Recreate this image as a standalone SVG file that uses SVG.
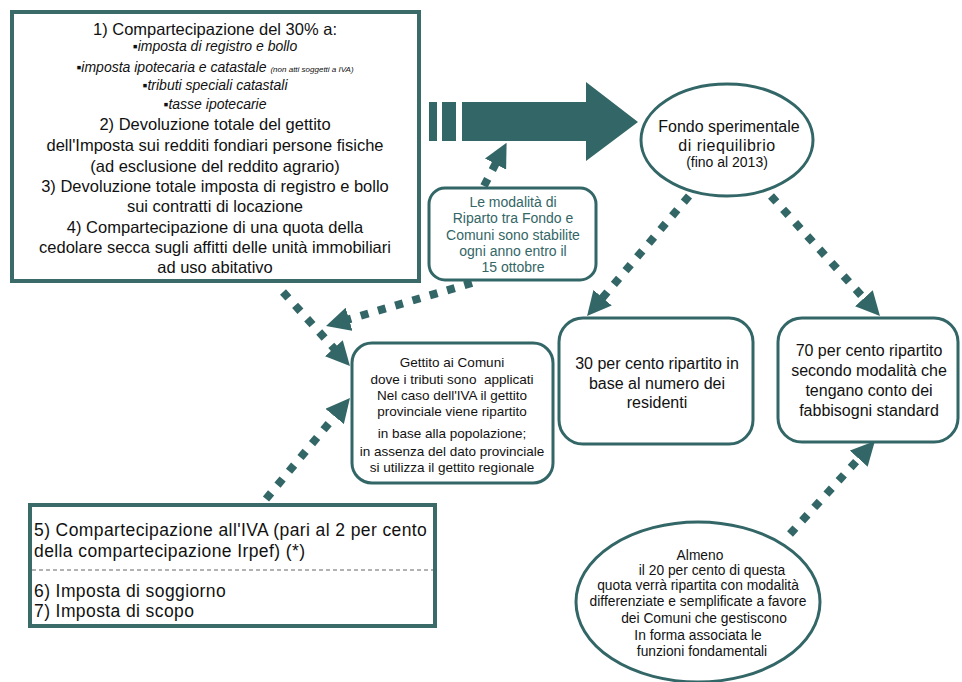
<svg xmlns="http://www.w3.org/2000/svg" width="962" height="682" viewBox="0 0 962 682">
<defs>
<style>
text{font-family:"Liberation Sans",Arial,sans-serif;fill:#111;}
.box{fill:#fff;stroke:#336666;stroke-width:3;}
.thick{fill:#fff;stroke:#3a6b69;stroke-width:4;}
.c{text-anchor:middle;}
.t16{font-size:16px;}
.big{font-size:16.5px;}
.t13{font-size:13.5px;}
.e13{font-size:13.8px;}
.it{font-size:14px;font-style:italic;}
.teal{fill:#336666;font-size:14px;}
.iva{font-size:17.5px;letter-spacing:0.4px;}
.dot{fill:none;stroke:#336666;stroke-width:8;stroke-dasharray:8 10;marker-end:url(#ah);}
</style>
<marker id="ah" markerUnits="userSpaceOnUse" markerWidth="24" markerHeight="24" refX="2" refY="12" orient="auto">
<path d="M0,0 L24,12 L0,24 Z" fill="#336666"/>
</marker>
</defs>

<g id="connectors">
<g id="big-arrow" fill="#336666">
<rect x="429" y="102" width="8" height="39"/>
<rect x="442" y="102" width="14" height="39"/>
<path d="M462,102 L586,102 L586,82 L638,122 L586,161 L586,141 L462,141 Z"/>
</g>
<line class="dot" x1="283" y1="292" x2="335.2" y2="349.7"/>
<line class="dot" x1="472" y1="283" x2="347.1" y2="319.8"/>
<line class="dot" x1="484" y1="186" x2="496.4" y2="162.3"/>
<line class="dot" x1="689" y1="196" x2="601.3" y2="299.2"/>
<line class="dot" x1="771" y1="196" x2="865.2" y2="299.7"/>
<line class="dot" x1="266" y1="499" x2="335.9" y2="414.9"/>
<line class="dot" x1="790" y1="534" x2="860.1" y2="457.2"/>
</g>

<g id="n-compartecipazione">
<rect class="thick" x="12" y="12" width="407" height="269"/>
<text class="c big" x="215" y="35">1) Compartecipazione del 30% a:</text>
<text class="c it" x="215" y="51">▪imposta di registro e bollo</text>
<text class="c it" x="215" y="72">▪imposta ipotecaria e catastale <tspan font-size="8">(non atti soggetti a IVA)</tspan></text>
<text class="c it" x="215" y="90">▪tributi speciali catastali</text>
<text class="c it" x="215" y="109">▪tasse ipotecarie</text>
<text class="c big" x="215" y="130">2) Devoluzione totale del gettito</text>
<text class="c big" x="215" y="151">dell'Imposta sui redditi fondiari persone fisiche</text>
<text class="c big" x="215" y="172">(ad esclusione del reddito agrario)</text>
<text class="c big" x="215" y="192">3) Devoluzione totale imposta di registro e bollo</text>
<text class="c big" x="215" y="212">sui contratti di locazione</text>
<text class="c big" x="215" y="233">4) Compartecipazione di una quota della</text>
<text class="c big" x="215" y="253">cedolare secca sugli affitti delle unità immobiliari</text>
<text class="c big" x="215" y="273">ad uso abitativo</text>
</g>

<g id="n-fondo">
<ellipse class="box" cx="727" cy="140" rx="86" ry="56"/>
<text class="c t16" x="729" y="132">Fondo sperimentale</text>
<text class="c t16" x="727" y="151" letter-spacing="0.5">di riequilibrio</text>
<text class="c" font-size="14" x="727" y="167">(fino al 2013)</text>
</g>

<g id="n-modalita">
<rect class="box" x="429" y="188" width="167" height="92" rx="16"/>
<text class="c teal" x="513" y="207">Le modalità di</text>
<text class="c teal" x="513" y="223">Riparto tra Fondo e</text>
<text class="c teal" x="513" y="240">Comuni sono stabilite</text>
<text class="c teal" x="513" y="256">ogni anno entro il</text>
<text class="c teal" x="513" y="272">15 ottobre</text>
</g>

<g id="n-gettito">
<rect class="box" x="352" y="343" width="201" height="140" rx="20"/>
<text class="c t13" x="452" y="367">Gettito ai Comuni</text>
<text class="c t13" x="452" y="384">dove i tributi sono&#160; applicati</text>
<text class="c t13" x="452" y="400">Nel caso dell'IVA il gettito</text>
<text class="c t13" x="452" y="416">provinciale viene ripartito</text>
<text class="c t13" x="452" y="438">in base alla popolazione;</text>
<text class="c t13" x="452" y="456">in assenza del dato provinciale</text>
<text class="c t13" x="452" y="472">si utilizza il gettito regionale</text>
</g>

<g id="n-30">
<rect class="box" x="559" y="318" width="194" height="126" rx="24"/>
<text class="c t16" x="657" y="369">30 per cento ripartito in</text>
<text class="c t16" x="657" y="389">base al numero dei</text>
<text class="c t16" x="657" y="408">residenti</text>
</g>

<g id="n-70">
<rect class="box" x="778" y="318" width="180" height="124" rx="24"/>
<text class="c t16" x="869" y="356">70 per cento ripartito</text>
<text class="c t16" x="869" y="376">secondo modalità che</text>
<text class="c t16" x="869" y="396">tengano conto dei</text>
<text class="c t16" x="869" y="416">fabbisogni standard</text>
</g>

<g id="n-iva">
<rect class="thick" x="30" y="505" width="405" height="121" stroke-width="3"/>
<line x1="32" y1="570" x2="433" y2="570" stroke="#666" stroke-width="1" stroke-dasharray="4 3"/>
<text class="iva" x="34" y="536">5) Compartecipazione all'IVA (pari al 2 per cento</text>
<text class="iva" x="34" y="557">della compartecipazione Irpef) (*)</text>
<text class="iva" x="34" y="597">6) Imposta di soggiorno</text>
<text class="iva" x="34" y="617">7) Imposta di scopo</text>
</g>

<g id="n-almeno">
<ellipse class="box" cx="698" cy="602" rx="122" ry="80"/>
<text class="c e13" x="700" y="560">Almeno</text>
<text class="c e13" x="712" y="575">il 20 per cento di questa</text>
<text class="c e13" x="698" y="590">quota verrà ripartita con modalità</text>
<text class="c e13" x="698" y="606">differenziate e semplificate a favore</text>
<text class="c e13" x="704" y="623">dei Comuni che gestiscono</text>
<text class="c e13" x="698" y="640">In forma associata le</text>
<text class="c e13" x="702" y="656">funzioni fondamentali</text>
</g>
</svg>
